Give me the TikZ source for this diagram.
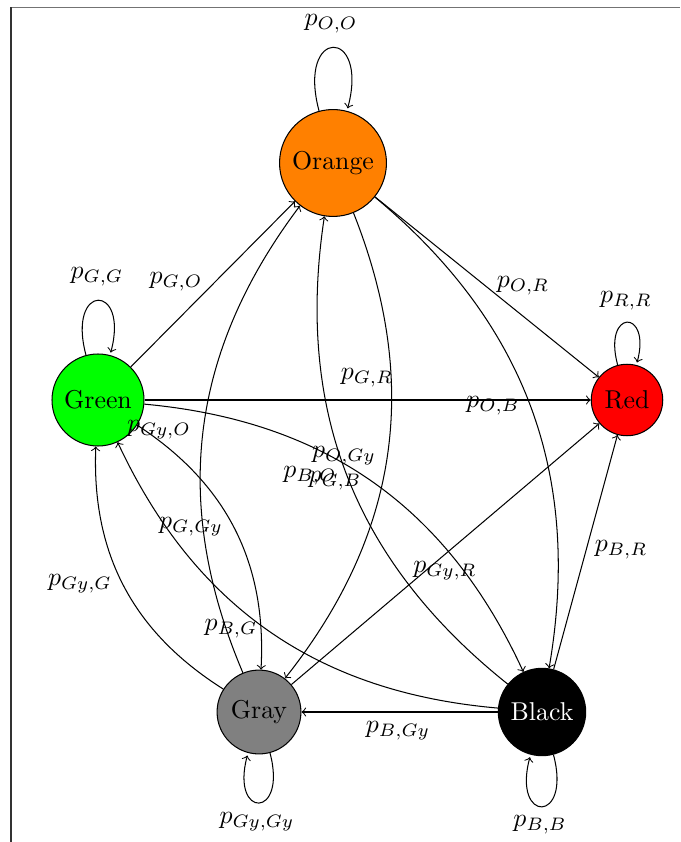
\documentclass[tikz,border=0pt]{standalone}
\begin{document}
\begin{tikzpicture}[x=0.3876pt,y=0.3876pt,
  state/.style={circle,draw,inner sep=0.3333em},
  lbl/.style={inner sep=0pt},
  tr/.style={->,bend left=30}]
\useasboundingbox (0,0) rectangle (680,-842);
% frame (clipped)
\draw[line width=0.75pt,black!55] (11,-7.5) -- (680,-7.5);
\draw[line width=0.7pt,black!80] (11,-7.5) -- (11,-842);
% states
\node[state,fill=orange] (O) at (333,-163) {Orange};
\node[state,fill=green] (G) at (98,-400) {Green};
\node[state,fill=red] (R) at (627,-400) {Red};
\node[state,fill=gray] (Gy) at (259,-712) {Gray};
\node[state,fill=black,text=white] (B) at (542,-712) {Black};
% loops
\path[->] (O) edge[loop above] ();
\path[->] (G) edge[loop above] ();
\path[->] (R) edge[loop above] ();
\path[->] (Gy) edge[loop below] ();
\path[->] (B) edge[loop below] ();
% straight transitions
\draw[->] (G) -- (O);
\draw[->] (O) -- (R);
\draw[->] (G) -- (R);
\draw[->] (Gy) -- (R);
\draw[->] (B) -- (R);
\draw[->] (B) -- (Gy);
% curved transitions
\draw[tr] (O) to (B);
\draw[tr] (O) to (Gy);
\draw[tr] (Gy) to (O);
\draw[tr] (B) to (O);
\draw[tr] (G) to (B);
\draw[tr] (G) to (Gy);
\draw[tr] (Gy) to (G);
\draw[tr] (B) to (G);
% labels
\node[lbl] (lOO) at (331,-24) {$p_{O,O}$};
\node[lbl] (lGG) at (97,-277) {$p_{G,G}$};
\node[lbl] (lRR) at (626,-301) {$p_{R,R}$};
\node[lbl] (lGyGy) at (257,-822) {$p_{Gy,Gy}$};
\node[lbl] (lBB) at (540,-825) {$p_{B,B}$};
\node[lbl] (lGO) at (176,-282) {$p_{G,O}$};
\node[lbl] (lOR) at (523,-286) {$p_{O,R}$};
\node[lbl] (lOB) at (493,-406) {$p_{O,B}$};
\node[lbl] (lGR) at (367,-378) {$p_{G,R}$};
\node[lbl] (lGyO) at (159,-430) {$p_{Gy,O}$};
\node[lbl] (lOGy) at (344,-456) {$p_{O,Gy}$};
\node[lbl] (lBO) at (310,-476) {$p_{B,O}$};
\node[lbl] (lGB) at (335,-481) {$p_{G,B}$};
\node[lbl] (lGGy) at (191,-527) {$p_{G,Gy}$};
\node[lbl] (lGyR) at (445,-571) {$p_{Gy,R}$};
\node[lbl] (lBR) at (621,-550) {$p_{B,R}$};
\node[lbl] (lGyG) at (80,-584) {$p_{Gy,G}$};
\node[lbl] (lBG) at (231,-629) {$p_{B,G}$};
\node[lbl] (lBGy) at (398,-731) {$p_{B,Gy}$};
\end{tikzpicture}
\end{document}
